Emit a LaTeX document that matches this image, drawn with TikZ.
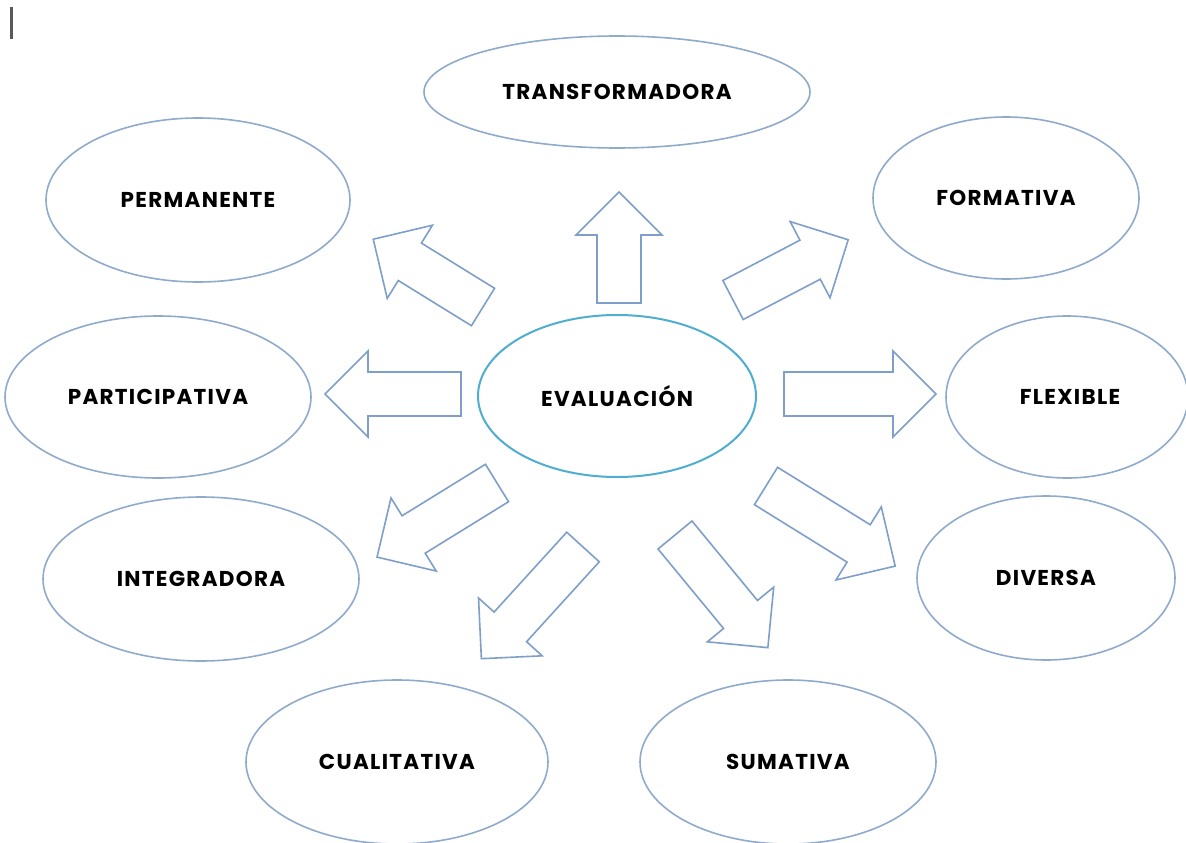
\documentclass[tikz,border=0pt]{standalone}
\usepackage{fontspec}
\newfontfamily\lblfont{Poppins}[LetterSpace=6]
\usetikzlibrary{shapes.geometric}
\definecolor{ellline}{HTML}{8FAACB}
\definecolor{arrline}{HTML}{7E9FC9}
\definecolor{centline}{HTML}{4FAED0}
\newcommand\blockarrow[3]{%
  \begin{scope}[shift={(#1)}, rotate=#2]
    \draw[barrow] (0,-22) -- (#3-43,-22) -- (#3-43,-43) -- (#3,0) -- (#3-43,43) -- (#3-43,22) -- (0,22) -- cycle;
  \end{scope}}
\begin{document}
\begin{tikzpicture}[x=1pt,y=-1pt,
  oval/.style={ellipse, draw=ellline, line width=1.6pt, fill=white, inner sep=0pt,
    font=\lblfont\bfseries\fontsize{21.5}{25}\selectfont, text=black},
  barrow/.style={draw=arrline, line width=1.6pt, fill=white, line join=miter}]
\path[use as bounding box] (0,0) rectangle (1186,843);
\fill[black!65] (10,7) rectangle (13,39);
% ovals
\node[oval, minimum width=386pt, minimum height=112pt] (transf) at (617,92) {TRANSFORMADORA};
\node[oval, minimum width=304pt, minimum height=164pt] (perm) at (198,200) {PERMANENTE};
\node[oval, minimum width=266pt, minimum height=162pt] (form) at (1006,198) {FORMATIVA};
\node[oval, minimum width=306pt, minimum height=162pt] (part) at (158,397) {PARTICIPATIVA};
\node[oval, draw=centline, line width=2pt, minimum width=278pt, minimum height=162pt] (eval) at (617,396) {EVALUACIÓN};
\node[oval, minimum width=242pt, minimum height=162pt] (flex) at (1067,397) {\hspace*{6pt}FLEXIBLE};
\node[oval, minimum width=316pt, minimum height=164pt] (integ) at (201,579) {INTEGRADORA};
\node[oval, minimum width=258pt, minimum height=164pt] (div) at (1046,578) {DIVERSA};
\node[oval, minimum width=302pt, minimum height=164pt] (cual) at (397,762) {CUALITATIVA};
\node[oval, minimum width=296pt, minimum height=164pt] (sum) at (788,762) {SUMATIVA};
% block arrows (tail point, angle, length)
\blockarrow{619,303}{90}{111}
\blockarrow{461,394}{180}{136}
\blockarrow{784,394}{0}{152}
\blockarrow{483,307}{148.3}{129}
\blockarrow{733,300}{27.6}{130}
\blockarrow{497,483}{-148.3}{141}
\blockarrow{583,547}{-132.3}{151}
\blockarrow{675,535}{-50.5}{146}
\blockarrow{766,486}{-31.8}{152}
\end{tikzpicture}
\end{document}
